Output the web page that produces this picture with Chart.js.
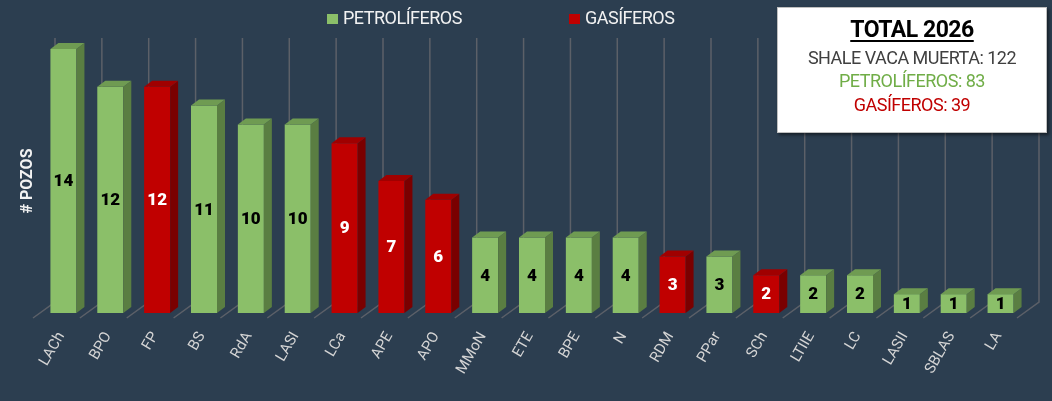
<!DOCTYPE html>
<html>
<head>
<meta charset="utf-8">
<script src="https://cdn.jsdelivr.net/npm/chart.js@4.4.1/dist/chart.umd.min.js"></script>
<style>
  body { margin: 0; background: #2c3e50; font-family: Roboto, "Open Sans", sans-serif; }
  #wrap { position: relative; width: 1052px; height: 401px; background: #2c3e50; }
  #legend { position: absolute; top: 7px; left: 0; width: 1052px; height: 22px; }
  .lg-item { position: absolute; top: 0; color: #f2f2f2; font-size: 18px; letter-spacing: -0.5px; line-height: 22px; }
  .lg-box { position: absolute; top: 7px; width: 11px; height: 10px; }
  #totals {
    position: absolute; left: 777px; top: 7px; width: 268px; height: 124px;
    background: #fff; border: 1px solid #bfbfbf; box-shadow: 2px 2px 3px rgba(0,0,0,0.5);
    text-align: center; letter-spacing: -0.5px;
  }
  #totals div { position: absolute; left: 0; width: 100%; font-size: 18px; line-height: 22px; }
</style>
</head>
<body>
<div id="wrap">
  <canvas id="pozosChart"></canvas>
  <div id="legend"></div>
  <div id="totals"></div>
</div>
<script>
// Data
const categories = ['LACh', 'BPO', 'FP', 'BS', 'RdA', 'LASI', 'LCa', 'APE', 'APO', 'MMoN', 'ETE',
    'BPE', 'N', 'RDM', 'PPar', 'SCh', 'LTIIE', 'LC', 'LASII', 'SBLAS', 'LA'];
const pozos = [14, 12, 12, 11, 10, 10, 9, 7, 6, 4, 4, 4, 4, 3, 3, 2, 2, 2, 1, 1, 1];
// P = petrolífero, G = gasífero
const tipo = ['P', 'P', 'G', 'P', 'P', 'P', 'G', 'G', 'G', 'P', 'P', 'P', 'P', 'G', 'P', 'G', 'P', 'P', 'P', 'P', 'P'];
const seriesNames = { P: 'PETROLÍFEROS', G: 'GASÍFEROS' };
const yTicks = [0, 14];
const year = 2026;

// Colors per type: front, top, side, label
const COLORS = {
    P: { front: '#8bbf69', top: '#6f9b52', side: '#5a7e42', label: '#000000' },
    G: { front: '#c00000', top: '#a00000', side: '#7a0000', label: '#ffffff' }
};
const GRID = '#5c6068';
const DEPTH = { dx: 8, dy: -6 };         // bar depth
const BACK = { dx: 15, dy: -11 };        // back wall offset from bar plane
const FLOOR = { dx: -7, dy: 5 };         // floor front edge offset

// legend + totals box
const legend = document.getElementById('legend');
[['P', 327, 343], ['G', 569, 585]].forEach(([k, bx, tx]) => {
    const box = document.createElement('div');
    box.className = 'lg-box';
    box.style.left = bx + 'px';
    box.style.background = COLORS[k].front;
    legend.appendChild(box);
    const t = document.createElement('div');
    t.className = 'lg-item';
    t.style.left = tx + 'px';
    t.textContent = seriesNames[k];
    legend.appendChild(t);
});

const sumOf = k => pozos.reduce((a, v, i) => a + (tipo[i] === k ? v : 0), 0);
const totals = document.getElementById('totals');
totals.innerHTML =
    `<div style="top:11px;font-size:23px;font-weight:700;color:#000;text-decoration:underline;text-underline-offset:3px">TOTAL ${year}</div>` +
    `<div style="top:39px;color:#404040">SHALE VACA MUERTA: ${sumOf('P') + sumOf('G')}</div>` +
    `<div style="top:62px;color:#70ad47">${seriesNames.P}: ${sumOf('P')}</div>` +
    `<div style="top:86px;color:#c00000">${seriesNames.G}: ${sumOf('G')}</div>`;

/**
 * Draws the back wall gridlines, floor edges and 3D faces of the bars
 */
const bars3d = {
    id: 'bars3d',
    beforeDatasetsDraw(chart) {
        const { ctx, chartArea, scales } = chart;
        const y = scales.y;
        const n = categories.length;
        const w = (chartArea.right - chartArea.left) / n;
        const y0 = y.getPixelForValue(yTicks[0]);
        const yTop = y.getPixelForValue(yTicks[yTicks.length - 1]);
        ctx.save();
        ctx.strokeStyle = GRID;
        ctx.lineWidth = 1.5;
        for (let i = 0; i <= n; i++) {
            const px = chartArea.left + i * w;
            ctx.beginPath();
            ctx.moveTo(px + BACK.dx, yTop + BACK.dy);
            ctx.lineTo(px + BACK.dx, y0 + BACK.dy);
            ctx.lineTo(px + FLOOR.dx, y0 + FLOOR.dy);
            ctx.stroke();
        }
        // y axis title
        ctx.translate(28, 181);
        ctx.rotate(-Math.PI / 2);
        ctx.fillStyle = '#f2f2f2';
        ctx.font = 'bold 16px Roboto, sans-serif';
        ctx.textAlign = 'center';
        ctx.textBaseline = 'middle';
        ctx.fillText('# POZOS', 0, 0);
        ctx.restore();
    },
    afterDatasetsDraw(chart) {
        const { ctx } = chart;
        const meta = chart.getDatasetMeta(0);
        ctx.save();
        meta.data.forEach((bar, i) => {
            const c = COLORS[tipo[i]];
            const { x, y, base, width } = bar.getProps(['x', 'y', 'base', 'width'], true);
            const l = x - width / 2, r = x + width / 2;
            // side
            ctx.fillStyle = c.side;
            ctx.beginPath();
            ctx.moveTo(r, y);
            ctx.lineTo(r + DEPTH.dx, y + DEPTH.dy);
            ctx.lineTo(r + DEPTH.dx, base + DEPTH.dy);
            ctx.lineTo(r, base);
            ctx.closePath();
            ctx.fill();
            // top
            ctx.fillStyle = c.top;
            ctx.beginPath();
            ctx.moveTo(l, y);
            ctx.lineTo(l + DEPTH.dx, y + DEPTH.dy);
            ctx.lineTo(r + DEPTH.dx, y + DEPTH.dy);
            ctx.lineTo(r, y);
            ctx.closePath();
            ctx.fill();
            // value label
            ctx.fillStyle = c.label;
            ctx.font = '900 17px Roboto, sans-serif';
            ctx.textAlign = 'center';
            ctx.textBaseline = 'middle';
            ctx.fillText(pozos[i], x, (y + base) / 2 + 1);
        });
        ctx.restore();
    }
};

new Chart(document.getElementById('pozosChart'), {
    type: 'bar',
    data: {
        labels: categories,
        datasets: [{
            label: '# POZOS',
            data: pozos,
            backgroundColor: tipo.map(k => COLORS[k].front),
            borderWidth: 0,
            categoryPercentage: 1,
            barPercentage: 0.555
        }]
    },
    options: {
        responsive: true,
        maintainAspectRatio: false,
        animation: false,
        layout: { padding: { left: 40, right: 28, top: 49, bottom: 0 } },
        plugins: {
            legend: { display: false },
            tooltip: { enabled: false }
        },
        scales: {
            y: {
                display: false,
                min: yTicks[0],
                max: yTicks[yTicks.length - 1]
            },
            x: {
                grid: { display: false },
                border: { display: false },
                afterFit: axis => { axis.height = 88; },
                ticks: {
                    autoSkip: false,
                    minRotation: 60,
                    maxRotation: 60,
                    padding: 8,
                    labelOffset: -2,
                    color: '#d4d4d4',
                    font: { size: 15, family: 'Roboto, sans-serif' }
                }
            }
        }
    },
    plugins: [bars3d]
});
</script>
</body>
</html>
